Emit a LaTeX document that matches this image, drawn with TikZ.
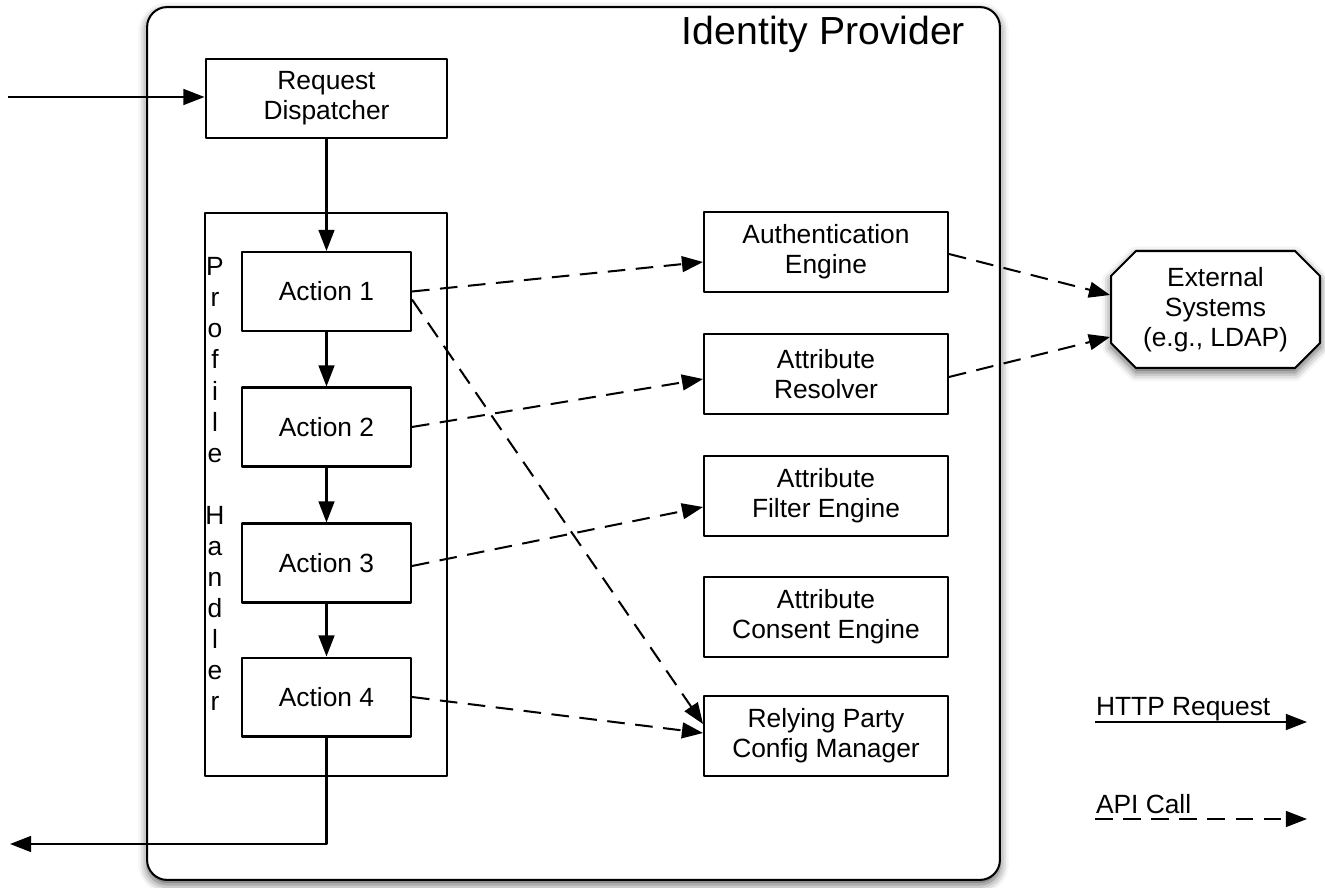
\documentclass[tikz,border=0pt]{standalone}
\usepackage{fontspec}
\setmainfont{Liberation Sans}
\usetikzlibrary{arrows.meta,shapes.misc,shadows.blur,calc}

\begin{document}
\begin{tikzpicture}[x=0.02cm, y=-0.02cm, line join=round, line width=1.15pt,
		>={Triangle[length=12pt,width=9pt]},
		box/.style={draw, inner sep=0pt, align=center, font=\fontsize{15}{17}\selectfont},
		actionbox/.style={box, minimum width=3.38cm, minimum height=1.58cm},
		compbox/.style={box, minimum width=4.88cm, minimum height=1.6cm},
		api/.style={->, dash pattern=on 10pt off 6pt},
		phletter/.style={anchor=base, inner sep=0pt, font=\fontsize{15}{17}\selectfont},
		shade/.style={blur shadow={shadow xshift=0pt, shadow yshift=-2.5pt, shadow blur radius=5pt, shadow opacity=65}}]
	\useasboundingbox (0,0) rectangle (1325,888);
	% identity provider frame
	\node[draw, fill=white, shade, rounded corners=0.4cm, minimum width=17.06cm, minimum height=17.46cm] (idp) at (573.5,443.5) {};
	\node[anchor=base east, inner sep=0pt, font=\fontsize{22.3}{25}\selectfont] (idp title) at (966,45) {Identity Provider};
	
	\node[box, minimum width=4.84cm, minimum height=1.58cm] (disp) at (326.5,98.5) {Request\\Dispatcher};
	\node[draw, minimum width=4.84cm, minimum height=11.26cm] (ph) at (326,494.5) {};
	\foreach \ch/\k in {P/0,r/1,o/2,f/3,i/4,l/5,e/6,H/8,a/9,n/10,d/11,l/12,e/13,r/14}
		\node[phletter] (ph\k) at (215,{276+31*\k}) {\ch};
	
	% actions
	\node[actionbox] (a1) at (326.5,291.5) {Action 1};
	\node[actionbox] (a2) at (326.5,427) {Action 2};
	\node[actionbox] (a3) at (326.5,563) {Action 3};
	\node[actionbox] (a4) at (326.5,697) {Action 4};
	
	% components
	\node[compbox] (auth) at (826,252) {Authentication\\Engine};
	\node[compbox] (res) at (826,374) {Attribute\\Resolver};
	\node[compbox] (filt) at (826,496) {Attribute\\Filter Engine};
	\node[compbox] (cons) at (826,617) {Attribute\\Consent Engine};
	\node[compbox] (rp) at (826,736) {Relying Party\\Config Manager};
	
	\node[box, fill=white, shade, chamfered rectangle, chamfered rectangle xsep=0.26cm, chamfered rectangle ysep=0.24cm, minimum width=4.18cm, minimum height=2.34cm] (ext) at (1215.5,309.5) {External\\Systems\\(e.g., LDAP)};
	
	% http flow
	\coordinate (in) at (8,97);
	\coordinate (out) at (10,844);
	\draw[->] (in) -- (disp.west |- in);
	\draw[->] (disp.south) -- (a1.north);
	\draw[->] (a1) -- (a2);
	\draw[->] (a2) -- (a3);
	\draw[->] (a3) -- (a4);
	\draw[->] (a4.south) |- (out);
	
	% api calls
	\draw[api] (a1.east) -- ($(auth.west)+(0,10)$);
	\draw[api] ($(a1.east)+(0,8)$) -- ($(rp.west)+(0,-12)$);
	\draw[api] (a2.east) -- ($(res.west)+(0,5)$);
	\draw[api] ($(a3.east)+(0,3)$) -- ($(filt.west)+(0,11)$);
	\draw[api] (a4.east) -- ($(rp.west)+(0,-3)$);
	\draw[api] ($(auth.east)+(0,2)$) -- ($(ext.west)+(0,-14.5)$);
	\draw[api] ($(res.east)+(0,3)$) -- ($(ext.west)+(0,27.5)$);
	
	% legend
	\node[phletter, anchor=base west] (http label) at (1095,715) {HTTP Request};
	\coordinate (http from) at (1095,722);
	\coordinate (http to) at (1307,722);
	\draw[->] (http from) -- (http to);
	\node[phletter, anchor=base west] (api label) at (1095,813) {API Call};
	\coordinate (api from) at (1095,819);
	\coordinate (api to) at (1307,819);
	\draw[api] (api from) -- (api to);
\end{tikzpicture}
\end{document}
